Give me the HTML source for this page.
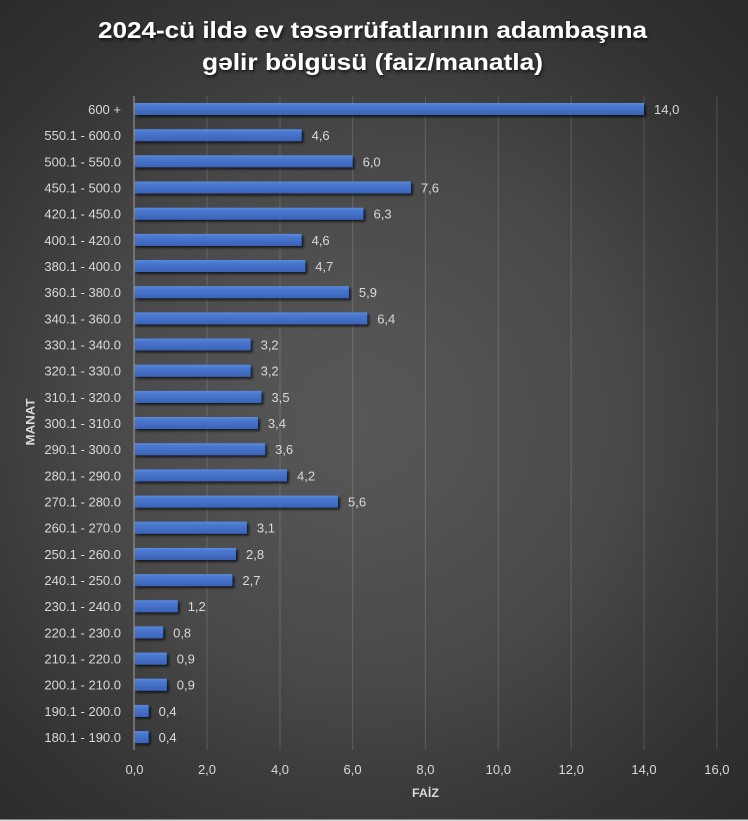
<!DOCTYPE html>
<html><head><meta charset="utf-8"><style>
html,body{margin:0;padding:0;background:#2a2a2a;}
svg{display:block;}
</style></head><body>
<svg width="748" height="821" viewBox="0 0 748 821" xmlns="http://www.w3.org/2000/svg" font-family="'Liberation Sans', sans-serif">
<defs>
<radialGradient id="bg" gradientUnits="userSpaceOnUse" cx="360" cy="420" r="570">
<stop offset="0" stop-color="#575757"/>
<stop offset="0.19" stop-color="#535353"/>
<stop offset="0.47" stop-color="#484848"/>
<stop offset="0.63" stop-color="#3d3d3d"/>
<stop offset="0.79" stop-color="#333333"/>
<stop offset="1" stop-color="#2a2a2a"/>
</radialGradient>
<linearGradient id="bar" x1="0" y1="0" x2="0" y2="1">
<stop offset="0" stop-color="#5a8ae0"/>
<stop offset="0.25" stop-color="#4a78cf"/>
<stop offset="1" stop-color="#3a63b8"/>
</linearGradient>
<filter id="sh" x="-5%" y="-50%" width="115%" height="250%">
<feDropShadow dx="2" dy="2" stdDeviation="1.2" flood-color="#000" flood-opacity="0.7"/>
</filter>
<filter id="tsh" x="-5%" y="-30%" width="110%" height="160%">
<feDropShadow dx="1" dy="2" stdDeviation="1.5" flood-color="#000" flood-opacity="0.7"/>
</filter>
</defs>
<rect x="0" y="0" width="748" height="821" fill="url(#bg)"/>
<rect x="0" y="819.5" width="748" height="1.5" fill="#d8d8d8"/>

<g filter="url(#tsh)" fill="#ffffff" font-weight="bold" font-size="23" text-anchor="middle">
<text x="372.5" y="38" textLength="549" lengthAdjust="spacingAndGlyphs">2024-cü ildə ev təsərrüfatlarının adambaşına</text>
<text x="372.5" y="70" textLength="341" lengthAdjust="spacingAndGlyphs">gəlir bölgüsü (faiz/manatla)</text>
</g>

<g stroke="#ffffff" stroke-opacity="0.13" stroke-width="1.2">
<line x1="207" y1="96" x2="207" y2="750"/>
<line x1="280" y1="96" x2="280" y2="750"/>
<line x1="352.6" y1="96" x2="352.6" y2="750"/>
<line x1="425.4" y1="96" x2="425.4" y2="750"/>
<line x1="498.3" y1="96" x2="498.3" y2="750"/>
<line x1="571.2" y1="96" x2="571.2" y2="750"/>
<line x1="644" y1="96" x2="644" y2="750"/>
<line x1="716.9" y1="96" x2="716.9" y2="750"/>
</g>

<g filter="url(#sh)" fill="url(#bar)">
<rect x="134" y="103" width="510.0" height="12"/>
<rect x="134" y="129.2" width="167.6" height="12"/>
<rect x="134" y="155.3" width="218.6" height="12"/>
<rect x="134" y="181.5" width="276.9" height="12"/>
<rect x="134" y="207.7" width="229.5" height="12"/>
<rect x="134" y="233.9" width="167.6" height="12"/>
<rect x="134" y="260" width="171.2" height="12"/>
<rect x="134" y="286.2" width="214.9" height="12"/>
<rect x="134" y="312.4" width="233.2" height="12"/>
<rect x="134" y="338.5" width="116.6" height="12"/>
<rect x="134" y="364.7" width="116.6" height="12"/>
<rect x="134" y="390.9" width="127.5" height="12"/>
<rect x="134" y="417" width="123.9" height="12"/>
<rect x="134" y="443.2" width="131.1" height="12"/>
<rect x="134" y="469.4" width="153.0" height="12"/>
<rect x="134" y="495.6" width="204.0" height="12"/>
<rect x="134" y="521.7" width="112.9" height="12"/>
<rect x="134" y="547.9" width="102.0" height="12"/>
<rect x="134" y="574.1" width="98.4" height="12"/>
<rect x="134" y="600.2" width="43.7" height="12"/>
<rect x="134" y="626.4" width="29.1" height="12"/>
<rect x="134" y="652.6" width="32.8" height="12"/>
<rect x="134" y="678.7" width="32.8" height="12"/>
<rect x="134" y="704.9" width="14.6" height="12"/>
<rect x="134" y="731.1" width="14.6" height="12"/>
</g>

<line x1="134" y1="96" x2="134" y2="750" stroke="#8a8a8a" stroke-width="1.3"/>

<g fill="#d9d9d9" font-size="13" text-anchor="end">
<text x="121" y="114">600 +</text>
<text x="121" y="140.2">550.1 - 600.0</text>
<text x="121" y="166.3">500.1 - 550.0</text>
<text x="121" y="192.5">450.1 - 500.0</text>
<text x="121" y="218.7">420.1 - 450.0</text>
<text x="121" y="244.9">400.1 - 420.0</text>
<text x="121" y="271">380.1 - 400.0</text>
<text x="121" y="297.2">360.1 - 380.0</text>
<text x="121" y="323.4">340.1 - 360.0</text>
<text x="121" y="349.5">330.1 - 340.0</text>
<text x="121" y="375.7">320.1 - 330.0</text>
<text x="121" y="401.9">310.1 - 320.0</text>
<text x="121" y="428">300.1 - 310.0</text>
<text x="121" y="454.2">290.1 - 300.0</text>
<text x="121" y="480.4">280.1 - 290.0</text>
<text x="121" y="506.6">270.1 - 280.0</text>
<text x="121" y="532.7">260.1 - 270.0</text>
<text x="121" y="558.9">250.1 - 260.0</text>
<text x="121" y="585.1">240.1 - 250.0</text>
<text x="121" y="611.2">230.1 - 240.0</text>
<text x="121" y="637.4">220.1 - 230.0</text>
<text x="121" y="663.6">210.1 - 220.0</text>
<text x="121" y="689.7">200.1 - 210.0</text>
<text x="121" y="715.9">190.1 - 200.0</text>
<text x="121" y="742.1">180.1 - 190.0</text>
</g>

<g fill="#d9d9d9" font-size="13">
<text x="654" y="114">14,0</text>
<text x="311.6" y="140.2">4,6</text>
<text x="362.6" y="166.3">6,0</text>
<text x="420.9" y="192.5">7,6</text>
<text x="373.5" y="218.7">6,3</text>
<text x="311.6" y="244.9">4,6</text>
<text x="315.2" y="271">4,7</text>
<text x="358.9" y="297.2">5,9</text>
<text x="377.2" y="323.4">6,4</text>
<text x="260.6" y="349.5">3,2</text>
<text x="260.6" y="375.7">3,2</text>
<text x="271.5" y="401.9">3,5</text>
<text x="267.9" y="428">3,4</text>
<text x="275.1" y="454.2">3,6</text>
<text x="297" y="480.4">4,2</text>
<text x="348" y="506.6">5,6</text>
<text x="256.9" y="532.7">3,1</text>
<text x="246" y="558.9">2,8</text>
<text x="242.4" y="585.1">2,7</text>
<text x="187.7" y="611.2">1,2</text>
<text x="173.1" y="637.4">0,8</text>
<text x="176.8" y="663.6">0,9</text>
<text x="176.8" y="689.7">0,9</text>
<text x="158.6" y="715.9">0,4</text>
<text x="158.6" y="742.1">0,4</text>
</g>

<g fill="#d9d9d9" font-size="13" text-anchor="middle">
<text x="134.5" y="774">0,0</text>
<text x="207" y="774">2,0</text>
<text x="280" y="774">4,0</text>
<text x="352.6" y="774">6,0</text>
<text x="425.4" y="774">8,0</text>
<text x="498.3" y="774">10,0</text>
<text x="571.2" y="774">12,0</text>
<text x="644" y="774">14,0</text>
<text x="716.9" y="774">16,0</text>
</g>

<text x="425.5" y="797" fill="#d9d9d9" font-size="12" font-weight="bold" text-anchor="middle" textLength="27" lengthAdjust="spacingAndGlyphs">FAİZ</text>
<text transform="translate(34.5,422) rotate(-90)" x="0" y="0" fill="#d9d9d9" font-size="12" font-weight="bold" text-anchor="middle" textLength="47" lengthAdjust="spacingAndGlyphs">MANAT</text>
</svg>
</body></html>
